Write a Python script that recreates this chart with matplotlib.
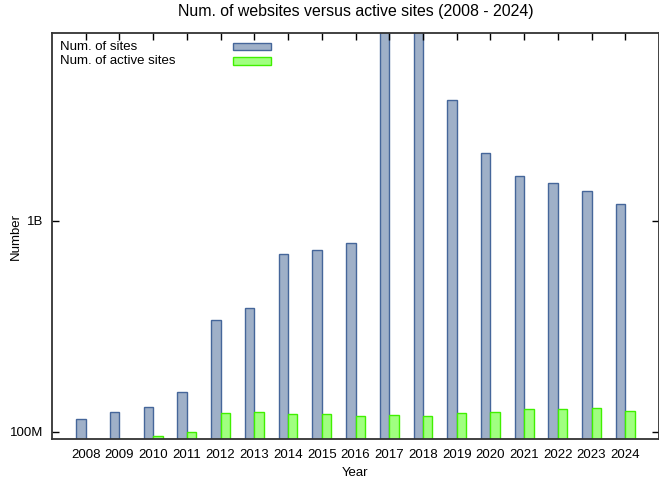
import numpy as np
import matplotlib.pyplot as plt
from matplotlib.ticker import FixedLocator, NullLocator

plt.rcParams['font.family'] = ['Liberation Sans', 'DejaVu Sans']
plt.rcParams['font.size'] = 9.5

# data (log scale)
years = ['2008', '2009', '2010', '2011', '2012', '2013', '2014', '2015', '2016',
         '2017', '2018', '2019', '2020', '2021', '2022', '2023', '2024']
sites = [115e6, 124e6, 131e6, 155e6, 340e6, 387e6, 698e6, 729e6, 787e6,
         9.5e9, 9.5e9, 3.74e9, 2.11e9, 1.64e9, 1.52e9, 1.39e9, 1.21e9]
active_sites = [85e6, 93e6, 95.5e6, 100e6, 122.5e6, 124e6, 122e6, 121e6, 119e6,
                120e6, 119.5e6, 122.5e6, 125e6, 128e6, 128e6, 129.5e6, 126e6]

fig = plt.figure(figsize=(6.59, 4.79), dpi=100)
ax = fig.add_axes([52/659, 40/479, 607/659, 406/479])

x = np.arange(len(years))
w = 0.28
ax.set_yscale('log')
b1 = ax.bar(x - w, sites, width=w, align='edge', bottom=1,
            color='#9fb0c8', edgecolor='#45669a', linewidth=1.0, label='Num. of sites')
b2 = ax.bar(x, active_sites, width=w, align='edge', bottom=1,
            color='#a0ff80', edgecolor='#40f000', linewidth=1.0, label='Num. of active sites')

ax.set_xlim(-1, 17)
ax.set_ylim(92.6e6, 7.78e9)
ax.set_xticks(x)
ax.set_xticklabels(years)
ax.yaxis.set_major_locator(FixedLocator([1e8, 1e9]))
ax.yaxis.set_minor_locator(NullLocator())
ax.set_yticklabels(['100M', '1B'])

ax.tick_params(axis='x', direction='in', bottom=False, top=True, length=5, pad=7, width=1)
ax.tick_params(axis='y', direction='in', left=True, right=True, length=5, pad=6, width=1)
for s in ax.spines.values():
    s.set_color('#333333')
    s.set_linewidth(1.3)

ax.set_title('Num. of websites versus active sites (2008 - 2024)', pad=12)
ax.set_xlabel('Year', labelpad=4.5)
ax.set_ylabel('Number')
ax.yaxis.set_label_coords(-0.049, 0.5)

# gnuplot-style key: left-aligned labels, sample boxes further right
labels = ['Num. of sites', 'Num. of active sites']
leg_text = ax.legend([b1, b2], labels, loc='upper left', bbox_to_anchor=(0.0, 1.0),
                     frameon=False, handlelength=0, handleheight=0.5, handletextpad=0,
                     labelspacing=0.15, borderpad=0.3, borderaxespad=0.3)
for h in leg_text.legend_handles:
    h.set_visible(False)
ax.add_artist(leg_text)
ax.legend([b1, b2], ['', ''], loc='upper left', bbox_to_anchor=(0.285, 0.997),
          frameon=False, handlelength=2.9, handleheight=0.5, handletextpad=0,
          labelspacing=0.2, borderpad=0.3, borderaxespad=0.3)

plt.savefig('out.png', dpi=100)
